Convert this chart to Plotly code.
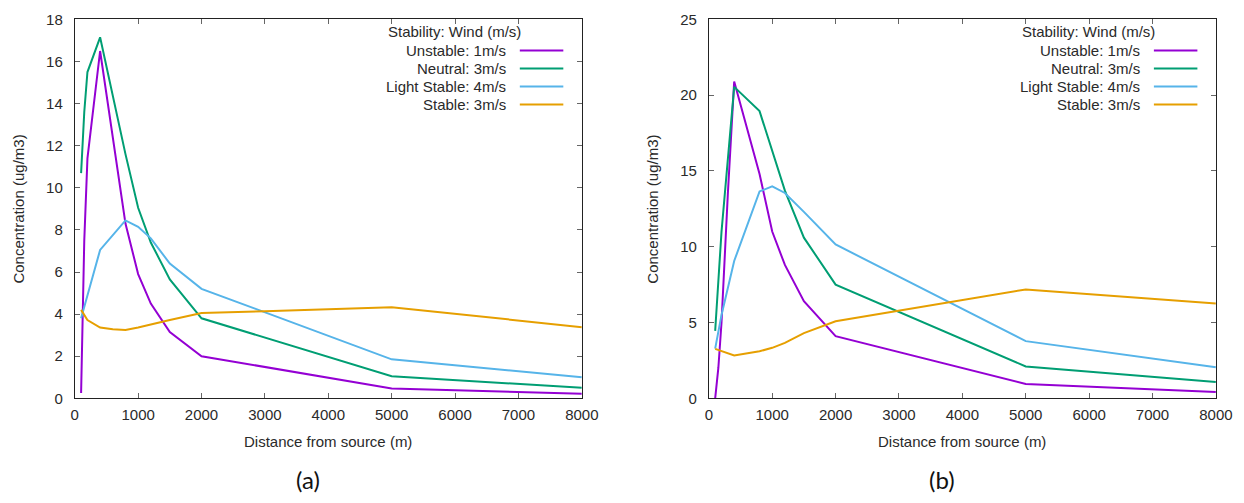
import plotly.graph_objects as go

# ---------------- data ----------------
series_names = ["Unstable: 1m/s", "Neutral: 3m/s", "Light Stable: 4m/s", "Stable: 3m/s"]
series_colors = ["#9400D3", "#009E73", "#56B4E9", "#E69F00"]

# panel (a)
a_unstable_x = [100, 125, 150, 200, 400, 800, 1000, 1200, 1500, 2000, 5000, 8000]
a_unstable_y = [0.25, 3.5, 7.5, 11.4, 16.5, 8.3, 5.9, 4.5, 3.15, 2.0, 0.46, 0.22]
a_neutral_x = [100, 150, 200, 400, 800, 1000, 1200, 1500, 2000, 5000, 8000]
a_neutral_y = [10.7, 13.6, 15.5, 17.15, 11.6, 9.05, 7.4, 5.65, 3.8, 1.05, 0.5]
a_light_x = [100, 400, 800, 1000, 1200, 1500, 2000, 5000, 8000]
a_light_y = [3.8, 7.05, 8.45, 8.15, 7.6, 6.4, 5.2, 1.85, 1.0]
a_stable_x = [100, 200, 400, 600, 800, 1000, 1500, 2000, 3000, 4000, 5000, 8000]
a_stable_y = [4.2, 3.72, 3.36, 3.28, 3.24, 3.36, 3.72, 4.05, 4.14, 4.22, 4.33, 3.38]

# panel (b)
b_unstable_x = [100, 150, 200, 250, 300, 400, 800, 1000, 1200, 1500, 2000, 5000, 8000]
b_unstable_y = [0.0, 2.0, 5.0, 9.5, 13.5, 20.9, 14.8, 11.0, 8.8, 6.4, 4.1, 0.95, 0.42]
b_neutral_x = [100, 150, 200, 400, 800, 1200, 1500, 2000, 5000, 8000]
b_neutral_y = [4.45, 7.8, 11.0, 20.55, 18.95, 13.7, 10.6, 7.5, 2.1, 1.08]
b_light_x = [100, 200, 400, 600, 800, 1000, 1200, 1500, 2000, 5000, 8000]
b_light_y = [3.28, 5.5, 9.06, 11.4, 13.65, 13.98, 13.55, 12.3, 10.15, 3.77, 2.05]
b_stable_x = [100, 400, 800, 1000, 1200, 1500, 2000, 5000, 8000]
b_stable_y = [3.26, 2.82, 3.1, 3.33, 3.66, 4.3, 5.08, 7.18, 6.25]

x_range = [0, 8000]
a_y_range = [0, 18]
b_y_range = [0, 25]
x_title = "Distance from source (m)"
y_title = "Concentration (ug/m3)"
legend_title = "Stability: Wind (m/s)"
panel_labels = ["(a)", "(b)"]

# ---------------- layout geometry ----------------
W, H = 1244, 503
# observed render transform (screen = a + b * layout px); compensate it
AX, BX = 4.25, 0.983
AY, BY = 8.6, 0.964


def fx(px):
    return (px - AX) / BX / W


def fy(py):
    return 1 - (py - AY) / BY / H


TOP, BOT = 19, 397
PANELS = [(75, 582), (709, 1216)]
FONT = "Liberation Sans, Arial, sans-serif"
TXT = "#2a2a2a"
FS = 15

fig = go.Figure()

panel_data = [
    [(a_unstable_x, a_unstable_y), (a_neutral_x, a_neutral_y), (a_light_x, a_light_y), (a_stable_x, a_stable_y)],
    [(b_unstable_x, b_unstable_y), (b_neutral_x, b_neutral_y), (b_light_x, b_light_y), (b_stable_x, b_stable_y)],
]

for p, series in enumerate(panel_data):
    xa = "x" if p == 0 else "x2"
    ya = "y" if p == 0 else "y2"
    for (xs, ys), name, col in zip(series, series_names, series_colors):
        fig.add_trace(go.Scatter(x=xs, y=ys, mode="lines", name=name,
                                 line=dict(color=col, width=2),
                                 xaxis=xa, yaxis=ya, showlegend=False))


def ax_common():
    return dict(showgrid=False, zeroline=False, showline=True, linecolor="#222",
                linewidth=1, mirror="ticks", ticks="inside", ticklen=5,
                tickwidth=1, tickcolor="#666",
                tickfont=dict(family=FONT, size=FS, color=TXT))


ydom = [fy(BOT), fy(TOP)]
layout = dict(width=W, height=H, autosize=False,
              margin=dict(l=0, r=0, t=0, b=0),
              paper_bgcolor="white", plot_bgcolor="white",
              font=dict(family=FONT, size=FS, color=TXT))

for p, (L, R) in enumerate(PANELS):
    sfx = "" if p == 0 else "2"
    xd = ax_common()
    xd.update(domain=[fx(L), fx(R)], range=x_range, tick0=0, dtick=1000,
              anchor="y" + sfx, ticklabelstandoff=3)
    yd = ax_common()
    yr = a_y_range if p == 0 else b_y_range
    yd.update(domain=ydom, range=yr, tick0=0, dtick=(2 if p == 0 else 5),
              anchor="x" + sfx, ticklabelstandoff=8)
    layout["xaxis" + sfx] = xd
    layout["yaxis" + sfx] = yd

fig.update_layout(**layout)

annotations = []
shapes = []
for p, (L, R) in enumerate(PANELS):
    # axis titles
    annotations.append(dict(text=x_title, xref="paper", yref="paper",
                            x=fx((L + R) / 2), y=fy(440), showarrow=False,
                            xanchor="center", yanchor="middle",
                            font=dict(family=FONT, size=FS, color=TXT)))
    annotations.append(dict(text=y_title, xref="paper", yref="paper",
                            x=fx(L - 56), y=fy((TOP + BOT) / 2), showarrow=False,
                            textangle=-90, xanchor="center", yanchor="middle",
                            font=dict(family=FONT, size=FS, color=TXT)))
    # panel label (kept fully inside the page)
    annotations.append(dict(text=panel_labels[p], xref="paper", yref="paper",
                            x=fx(L + 233), y=0, showarrow=False, borderpad=0,
                            xanchor="center", yanchor="bottom",
                            font=dict(family="Lato, Open Sans, sans-serif", size=24, color="#111")))
    # legend (text right-aligned, sample line on the right, as in gnuplot)
    annotations.append(dict(text=legend_title, xref="paper", yref="paper",
                            x=fx(R - 127.5), y=fy(31), showarrow=False,
                            xanchor="center", yanchor="middle",
                            font=dict(family=FONT, size=FS, color=TXT)))
    for i, (name, col) in enumerate(zip(series_names, series_colors)):
        ry = 50 + i * 18
        annotations.append(dict(text=name, xref="paper", yref="paper",
                                x=fx(R - 74), y=fy(ry), showarrow=False,
                                xanchor="right", yanchor="middle",
                                font=dict(family=FONT, size=FS, color=TXT)))
        shapes.append(dict(type="line", xref="paper", yref="paper",
                           x0=fx(R - 62), x1=fx(R - 18.5),
                           y0=fy(ry), y1=fy(ry),
                           line=dict(color=col, width=2)))

fig.update_layout(annotations=annotations, shapes=shapes)
fig.write_html("out.html")
